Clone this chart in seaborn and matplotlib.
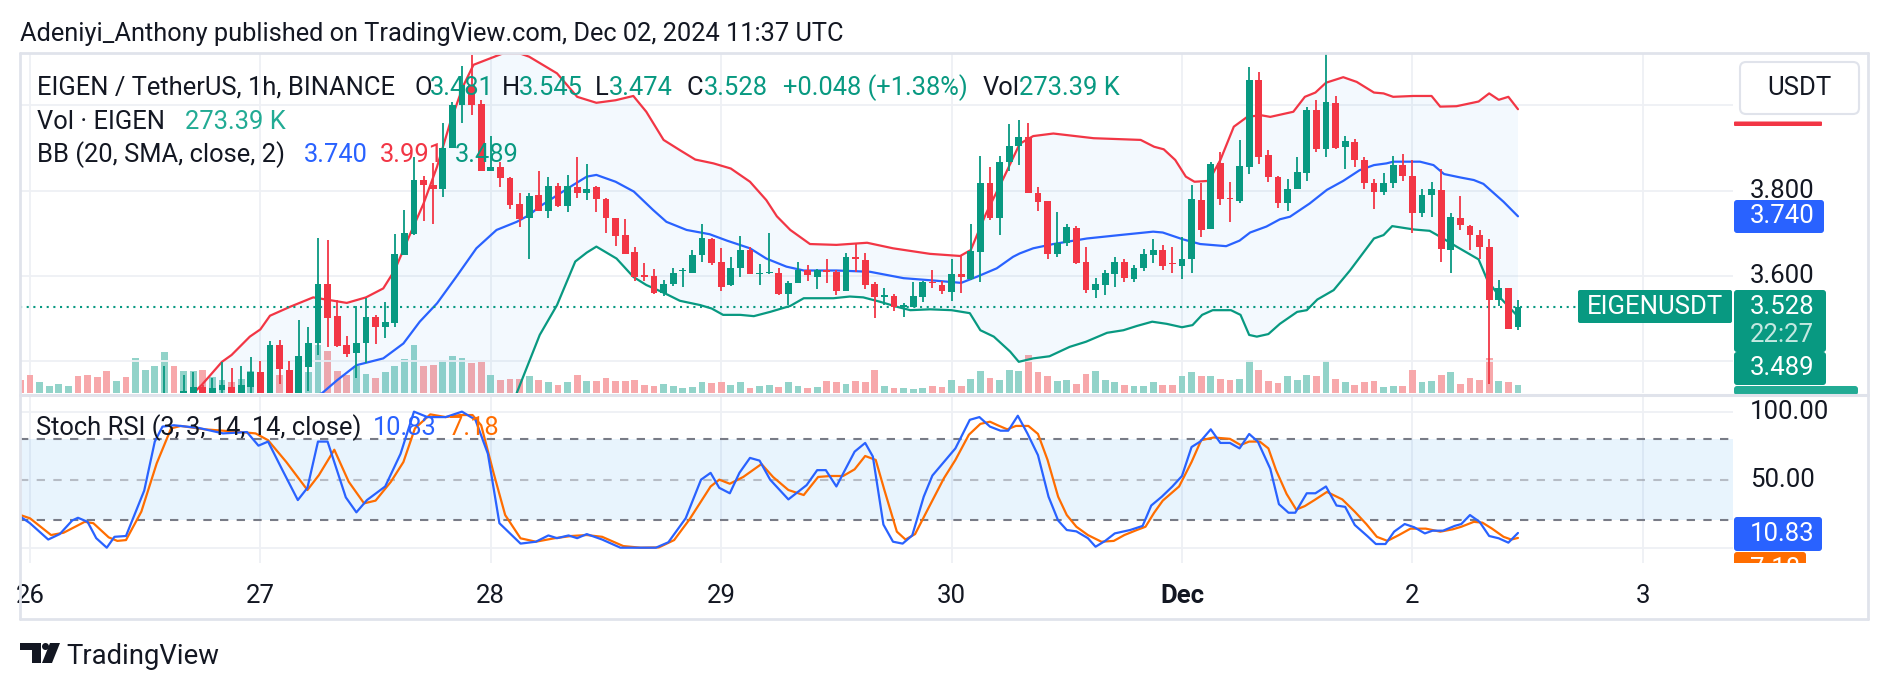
import numpy as np
import pandas as pd
import matplotlib
matplotlib.use("Agg")
import matplotlib.pyplot as plt
import seaborn as sns
from matplotlib.patches import FancyBboxPatch, Polygon, Circle
from matplotlib.lines import Line2D
from matplotlib.transforms import IdentityTransform

# ---------------- DATA ----------------
# hourly candles, hour 0 = Nov 26 00:00 UTC (first one is Nov 25 23:00)
hours = list(range(-1, 156))
opens = [3.28, 3.27, 3.25, 3.26, 3.265, 3.27, 3.275, 3.26, 3.245, 3.235,
         3.22, 3.23, 3.22, 3.25, 3.27, 3.29, 3.31, 3.30, 3.32, 3.341,
         3.315, 3.334, 3.341, 3.318, 3.341, 3.376, 3.32, 3.438, 3.38, 3.32,
         3.386, 3.442, 3.581, 3.506, 3.438, 3.419, 3.442, 3.503, 3.48, 3.491,
         3.649, 3.698, 3.825, 3.813, 3.805, 3.899, 4.0, 4.048, 4.003, 3.847,
         3.856, 3.829, 3.769, 3.735, 3.79, 3.753, 3.811, 3.764, 3.808, 3.795,
         3.808, 3.78, 3.735, 3.696, 3.657, 3.602, 3.6, 3.561, 3.581, 3.611,
         3.606, 3.649, 3.686, 3.634, 3.579, 3.618, 3.661, 3.605, 3.606, 3.608,
         3.559, 3.583, 3.614, 3.598, 3.614, 3.61, 3.566, 3.644, 3.637, 3.581,
         3.552, 3.553, 3.528, 3.528, 3.55, 3.587, 3.579, 3.563, 3.605, 3.592,
         3.657, 3.819, 3.737, 3.868, 3.905, 3.925, 3.795, 3.777, 3.652, 3.677,
         3.712, 3.633, 3.567, 3.579, 3.605, 3.633, 3.592, 3.62, 3.649, 3.661,
         3.631, 3.623, 3.641, 3.778, 3.711, 3.864, 3.784, 3.777, 3.856, 4.059,
         3.883, 3.833, 3.772, 3.805, 3.841, 3.989, 3.897, 4.006, 3.902, 3.915,
         3.873, 3.817, 3.798, 3.817, 3.86, 3.834, 3.748, 3.79, 3.802, 3.66,
         3.735, 3.717, 3.696, 3.667, 3.545, 3.571, 3.481]
highs = [3.29, 3.28, 3.27, 3.27, 3.28, 3.28, 3.28, 3.27, 3.25, 3.24,
         3.235, 3.235, 3.26, 3.28, 3.30, 3.389, 3.32, 3.368, 3.376, 3.345,
         3.36, 3.399, 3.384, 3.389, 3.411, 3.402, 3.448, 3.45, 3.402, 3.497,
         3.481, 3.688, 3.684, 3.545, 3.459, 3.530, 3.548, 3.509, 3.54, 3.698,
         3.754, 3.878, 3.834, 3.864, 3.958, 4.009, 4.092, 4.118, 4.012, 3.928,
         3.868, 3.833, 3.794, 3.794, 3.847, 3.833, 3.817, 3.837, 3.88, 3.862,
         3.811, 3.782, 3.737, 3.733, 3.667, 3.63, 3.616, 3.591, 3.618, 3.62,
         3.661, 3.722, 3.688, 3.665, 3.644, 3.694, 3.667, 3.628, 3.70, 3.618,
         3.589, 3.634, 3.626, 3.616, 3.641, 3.615, 3.653, 3.678, 3.655, 3.587,
         3.573, 3.559, 3.536, 3.587, 3.589, 3.614, 3.589, 3.639, 3.649, 3.723,
         3.881, 3.856, 3.881, 3.956, 3.966, 3.959, 3.808, 3.777, 3.75, 3.722,
         3.717, 3.667, 3.595, 3.613, 3.644, 3.639, 3.626, 3.663, 3.686, 3.673,
         3.667, 3.692, 3.813, 3.817, 3.868, 3.891, 3.821, 3.919, 4.091, 4.079,
         3.895, 3.835, 3.827, 3.878, 3.997, 4.013, 4.12, 4.022, 3.928, 3.92,
         3.88, 3.827, 3.841, 3.881, 3.886, 3.872, 3.803, 3.821, 3.852, 3.747,
         3.787, 3.72, 3.709, 3.686, 3.591, 3.572, 3.545]
lows = [3.26, 3.24, 3.24, 3.25, 3.26, 3.26, 3.25, 3.24, 3.23, 3.21,
        3.215, 3.21, 3.215, 3.24, 3.26, 3.28, 3.28, 3.29, 3.31, 3.30,
        3.31, 3.31, 3.31, 3.31, 3.325, 3.31, 3.31, 3.348, 3.30, 3.31,
        3.33, 3.415, 3.434, 3.434, 3.411, 3.36, 3.397, 3.44, 3.454, 3.48,
        3.649, 3.696, 3.73, 3.723, 3.786, 3.899, 3.959, 3.977, 3.847, 3.845,
        3.808, 3.756, 3.716, 3.639, 3.753, 3.735, 3.762, 3.751, 3.784, 3.778,
        3.751, 3.702, 3.670, 3.652, 3.589, 3.589, 3.559, 3.553, 3.577, 3.575,
        3.606, 3.634, 3.626, 3.566, 3.577, 3.598, 3.605, 3.579, 3.605, 3.555,
        3.532, 3.583, 3.589, 3.569, 3.583, 3.555, 3.566, 3.61, 3.569, 3.501,
        3.532, 3.519, 3.505, 3.528, 3.538, 3.573, 3.559, 3.542, 3.561, 3.591,
        3.587, 3.731, 3.696, 3.845, 3.86, 3.795, 3.753, 3.639, 3.644, 3.67,
        3.628, 3.561, 3.548, 3.555, 3.575, 3.587, 3.587, 3.612, 3.63, 3.614,
        3.608, 3.592, 3.608, 3.692, 3.711, 3.766, 3.727, 3.772, 3.839, 3.863,
        3.821, 3.759, 3.753, 3.805, 3.823, 3.891, 3.878, 3.898, 3.852, 3.855,
        3.803, 3.756, 3.79, 3.806, 3.823, 3.702, 3.739, 3.739, 3.634, 3.608,
        3.708, 3.661, 3.639, 3.348, 3.53, 3.477, 3.474]
closes = [3.27, 3.25, 3.26, 3.265, 3.27, 3.275, 3.26, 3.245, 3.235, 3.22,
          3.23, 3.22, 3.25, 3.27, 3.29, 3.31, 3.30, 3.331, 3.339, 3.315,
          3.338, 3.345, 3.318, 3.345, 3.376, 3.322, 3.438, 3.381, 3.32, 3.413,
          3.442, 3.581, 3.501, 3.436, 3.417, 3.442, 3.505, 3.48, 3.492, 3.652,
          3.702, 3.825, 3.813, 3.805, 3.899, 4.001, 4.048, 4.0, 3.847, 3.856,
          3.829, 3.766, 3.733, 3.788, 3.753, 3.811, 3.764, 3.811, 3.794, 3.803,
          3.78, 3.735, 3.694, 3.652, 3.598, 3.597, 3.561, 3.581, 3.606, 3.614,
          3.649, 3.688, 3.63, 3.575, 3.62, 3.661, 3.605, 3.608, 3.609, 3.559,
          3.583, 3.614, 3.602, 3.614, 3.61, 3.566, 3.644, 3.639, 3.579, 3.55,
          3.556, 3.528, 3.532, 3.553, 3.587, 3.583, 3.566, 3.605, 3.598, 3.659,
          3.819, 3.735, 3.868, 3.905, 3.925, 3.795, 3.774, 3.652, 3.677, 3.714,
          3.631, 3.567, 3.581, 3.606, 3.633, 3.595, 3.62, 3.652, 3.662, 3.623,
          3.628, 3.641, 3.78, 3.709, 3.862, 3.78, 3.781, 3.858, 4.059, 3.88,
          3.831, 3.77, 3.805, 3.844, 3.989, 3.897, 4.009, 3.899, 3.917, 3.873,
          3.819, 3.798, 3.817, 3.86, 3.834, 3.748, 3.79, 3.803, 3.663, 3.738,
          3.72, 3.696, 3.667, 3.545, 3.571, 3.477, 3.528]
volumes_k = [436, 600, 349, 240, 305, 240, 567, 600, 523, 719,
             392, 523, 1145, 763, 894, 1341, 894, 719, 719, 763,
             523, 436, 349, 469, 709, 545, 654, 600, 763, 654,
             676, 1581, 1363, 709, 600, 872, 632, 491, 676, 894,
             1112, 1581, 894, 927, 1068, 1199, 1145, 981, 1003, 600,
             436, 458, 458, 567, 436, 349, 273, 349, 600, 382,
             382, 491, 382, 382, 436, 273, 218, 305, 240, 164,
             196, 349, 327, 349, 273, 349, 164, 240, 273, 196,
             349, 218, 164, 196, 382, 349, 305, 382, 349, 763,
             218, 164, 164, 131, 164, 218, 196, 436, 218, 458,
             709, 491, 436, 763, 709, 1254, 676, 545, 382, 414,
             305, 632, 709, 414, 349, 273, 240, 240, 349, 273,
             273, 545, 676, 567, 545, 458, 414, 458, 1090, 763,
             382, 327, 545, 414, 600, 545, 1036, 458, 349, 273,
             349, 382, 196, 240, 240, 741, 349, 382, 600, 676,
             305, 491, 436, 1145, 403, 349, 273]

# Bollinger bands (20, SMA, close, 2)
upper_hours = [12, 17, 17.9, 20, 21, 22.9, 24, 25, 27.1, 29.5, 33, 35, 36.8, 38, 39.4, 41, 42.4,
               43.75, 45.1, 46.2, 49.3, 51, 52, 54.9, 57, 59, 61, 62.85, 64.2, 66, 67.7, 69.3,
               71.2, 73, 75, 76.7, 77.8, 79.2, 81.25, 84, 87.2, 89.9, 93.75, 96.9, 98, 99.6,
               101.4, 103.1, 104.5, 106.6, 110.8, 115.7, 117.1, 118.1, 119.3, 120.4, 121.3,
               122.8, 124, 125.4, 126.8, 128.2, 129.2, 131.6, 132.8, 133.9, 135, 136.8, 138.2,
               140, 141, 142, 144.1, 146, 146.9, 148.6, 150.9, 152, 153, 154, 155]
upper_vals = [3.30, 3.325, 3.345, 3.399, 3.415, 3.458, 3.475, 3.507, 3.528, 3.55, 3.537, 3.55, 3.571,
              3.614, 3.688, 3.77, 3.856, 3.958, 4.044, 4.095, 4.122, 4.122, 4.114, 4.075, 4.02,
              4.006, 4.012, 4.022, 3.985, 3.919, 3.895, 3.873, 3.864, 3.852, 3.821, 3.778, 3.74,
              3.708, 3.675, 3.673, 3.678, 3.665, 3.652, 3.647, 3.661, 3.747, 3.829, 3.91, 3.928,
              3.934, 3.923, 3.919, 3.903, 3.897, 3.872, 3.833, 3.821, 3.823, 3.872, 3.95, 3.973,
              3.977, 3.973, 3.985, 4.02, 4.03, 4.053, 4.066, 4.055, 4.03, 4.028, 4.02, 4.022,
              4.022, 3.997, 3.998, 4.009, 4.028, 4.013, 4.02, 3.991]
basis_hours = [17, 25, 30.4, 32, 34, 36.8, 38.9, 40.6, 42.4, 44.4, 46.5, 48.6, 50.7, 52, 53.1, 56.2,
               58, 59, 61, 62.9, 64.9, 66.3, 68.4, 70.8, 72.6, 75, 76.7, 78.8, 80.6, 84, 87.5, 91,
               94.4, 97, 98.6, 100.7, 102.4, 103.1, 104.5, 106.6, 110.1, 113.5, 117, 118, 120.1,
               121.9, 124.6, 126, 127.1, 128.8, 130.2, 131.25, 133.3, 135.1, 136.8, 138.5, 140,
               141.3, 142, 144.8, 146.2, 147.3, 149, 150.4, 151.4, 153.5, 155]
basis_vals = [3.27, 3.29, 3.325, 3.356, 3.391, 3.407, 3.442, 3.493, 3.536, 3.598, 3.665, 3.708, 3.727,
              3.743, 3.763, 3.808, 3.833, 3.837, 3.821, 3.798, 3.755, 3.727, 3.708, 3.698, 3.683,
              3.665, 3.641, 3.622, 3.613, 3.613, 3.61, 3.595, 3.589, 3.584, 3.598, 3.618, 3.645,
              3.653, 3.665, 3.675, 3.688, 3.696, 3.704, 3.702, 3.686, 3.675, 3.67, 3.683, 3.702,
              3.716, 3.733, 3.739, 3.77, 3.802, 3.823, 3.848, 3.86, 3.864, 3.868, 3.868, 3.86,
              3.839, 3.831, 3.825, 3.816, 3.774, 3.740]
lower_hours = [17, 25, 30, 35, 40, 44, 47, 49, 50.6, 53.1, 54.9, 56.8, 58, 59, 61.1, 62.85, 64.2, 66,
               67.7, 69.8, 71, 72.2, 74, 75.4, 77.1, 79.2, 80.6, 83.7, 85.4, 86.8, 88.5, 90.3, 91.7,
               93.75, 96, 97.9, 99, 100.4, 102.1, 103, 104.5, 106.2, 108.3, 110, 112.2, 113.9,
               115.3, 116.9, 118.4, 120, 121.1, 122.1, 123.2, 125.1, 126.1, 127, 127.8, 129, 130.2,
               132, 133, 134.1, 135.8, 137.5, 140, 141, 141.9, 144.2, 145.8, 146.9, 148.6, 150.9,
               151.8, 153.2, 155]
lower_vals = [3.22, 3.18, 3.17, 3.2, 3.12, 3.09, 3.12, 3.22, 3.32, 3.462, 3.532, 3.634, 3.655, 3.669,
              3.641, 3.598, 3.579, 3.561, 3.542, 3.532, 3.524, 3.509, 3.509, 3.506, 3.516, 3.53,
              3.548, 3.548, 3.552, 3.55, 3.54, 3.528, 3.52, 3.522, 3.52, 3.513, 3.473, 3.458,
              3.423, 3.399, 3.407, 3.412, 3.434, 3.446, 3.467, 3.473, 3.483, 3.493, 3.488, 3.48,
              3.485, 3.509, 3.52, 3.52, 3.509, 3.462, 3.458, 3.464, 3.488, 3.516, 3.52, 3.545,
              3.567, 3.613, 3.688, 3.696, 3.717, 3.709, 3.706, 3.692, 3.669, 3.639, 3.591, 3.548,
              3.505]

# Stoch RSI (3, 3, 14, 14, close)
k_hours = [-1, 0, 1.9, 3.1, 4.4, 5, 6, 6.9, 8, 8.8, 10, 11.9, 13, 13.8, 15, 17.6, 20.1, 22.6, 23.8,
           24.8, 26.3, 27.9, 28.9, 30, 31, 32.9, 34, 35.1, 37, 38.6, 40, 41.4, 43.3, 45, 46.4, 47.7,
           48.9, 51.1, 52.7, 54, 54.9, 56.1, 57, 58, 59.6, 61.5, 63.4, 65.2, 66.5, 68.3, 69.9, 70.9,
           71.8, 72.9, 73.9, 75, 76, 77.1, 79, 80.9, 82, 82.9, 84, 85.9, 87, 87.8, 88.9, 89.9, 90.9,
           91.9, 93.1, 94, 95.2, 96.4, 97.9, 98.9, 100, 101.1, 101.9, 102.9, 103.9, 105, 106.1,
           107.1, 108, 109, 110.2, 111, 112, 113, 114.6, 115.9, 116.8, 117.9, 119, 120, 121, 121.9,
           123, 124, 125, 126, 127, 127.9, 129.2, 130.1, 131.1, 131.8, 133, 133.9, 135, 136.1, 137,
           138, 139.3, 140.2, 141.2, 142.1, 143.2, 144.2, 145.3, 146.1, 147.2, 148.4, 149.1, 150,
           151, 152, 153, 154, 155]
k_vals = [22.8, 18, 6, 10, 20, 22, 19, 7, 0, 8, 8.6, 42, 78, 89, 90, 88, 84, 85, 75, 78, 57, 35, 44,
          78, 78, 37, 26, 35, 45, 69, 100, 96, 96, 100, 94, 69, 18, 3, 4.4, 9, 7, 9, 7, 10, 6, 0, 0,
          0, 4, 21.6, 50, 55, 44, 40, 55, 66, 64, 50, 35.5, 46, 57, 57, 45, 70.6, 77, 67, 17, 4.4,
          3, 9, 37.5, 53, 63, 73, 94, 96, 89, 86, 86, 97, 84, 68, 37.5, 20, 13, 12, 7, 0.7, 5,
          10.5, 13, 16, 31, 37.5, 45, 52.7, 74, 78, 87, 77, 77, 73, 83.6, 78, 58, 32, 25.7, 25.7,
          40, 40, 45, 31, 30, 16.7, 8.6, 2.7, 2.7, 11.8, 17.4, 15, 10.5, 12.5, 12.5, 16, 17.4, 24,
          19, 8.6, 6.9, 3.7, 10.83]
d_hours = [-1, 0, 2.2, 3.5, 5.7, 6.6, 8.2, 9.1, 10, 11.6, 13.2, 14.7, 15.7, 18.2, 22, 23.5, 24.8,
           26.7, 28.9, 30.1, 31.7, 33.2, 34.8, 36, 37.6, 38.9, 40.1, 41.7, 43.3, 44.8, 46.1, 47,
           48.3, 49.5, 51.1, 52.7, 54.6, 56.4, 58, 59.6, 61.8, 63.6, 65.5, 67.1, 68.7, 70.9, 71.8,
           72.9, 74.3, 76.2, 77.4, 79, 80.6, 82.1, 83.4, 84.7, 85.9, 87, 88.1, 89, 90.3, 91.2, 92.2,
           93.4, 95.2, 96.4, 97.8, 99, 100, 100.8, 101.8, 102.7, 104, 105, 106, 107.1, 108, 109,
           110.2, 111.6, 112.9, 114, 115.3, 116.2, 117.1, 118, 119.7, 121, 122, 123.3, 125, 126.1,
           127, 128.1, 129, 129.8, 130.9, 131.9, 132.8, 133.8, 135.1, 136.7, 138, 139.2, 140.3,
           141.4, 142.6, 143.8, 145.4, 146.9, 148.2, 149.1, 150.4, 151.3, 152.3, 153.5, 154.3, 155]
d_vals = [24, 21.6, 9.3, 11, 19, 18, 7.6, 5, 5.6, 26.5, 62, 87.7, 89.5, 87, 85, 84, 79, 63, 42.4,
          53.4, 72, 48.5, 32.6, 34.6, 48.5, 63, 87.7, 98, 96, 97.5, 97.5, 90, 54.7, 24, 6.9, 4.4,
          6.9, 8.6, 9.3, 8, 1.2, 0, 0.2, 5.6, 20.8, 45, 50, 47, 52, 61.5, 52, 42.4, 38.7, 52, 52.7,
          52.7, 57.6, 67.4, 64.5, 42.4, 11.8, 6, 10, 26.5, 51, 64.5, 83, 91, 92.6, 90, 87, 89.5,
          89.5, 83.6, 64.5, 37.5, 24, 15.4, 9.3, 4.4, 5, 9.3, 13, 15.4, 25.7, 34.6, 45, 63, 79,
          81, 80, 75.5, 78, 78, 73, 57, 39.5, 28, 30.6, 35, 41, 35.5, 26.5, 17.4, 8, 5, 9.3, 14,
          14, 11.8, 13.5, 15.4, 19, 18.4, 14, 8, 6, 7.18]

day_hours = [0, 24, 48, 72, 96, 120, 144, 168]
day_labels = ["26", "27", "28", "29", "30", "Dec", "2", "3"]
last_close = 3.528

# ---------------- STYLE ----------------
sns.set_theme(style="white")
plt.rcParams['font.family'] = ['Roboto', 'DejaVu Sans']

UP, DOWN = "#089981", "#F23645"
UPV, DOWNV = "#92d3c9", "#f7a8ab"
BLUE, ORANGE = "#2962FF", "#FF6D00"
TXT = "#131722"
GRID = "#eef0f4"
BORDER = "#e0e3eb"
FS = 18.4
FSA = 18.5

W, H = 1888, 690
fig = plt.figure(figsize=(W / 100, H / 100), dpi=100)
fig.patch.set_facecolor("white")

def frect(x0, y0, x1, y1):
    return [x0 / W, 1 - y1 / H, (x1 - x0) / W, (y1 - y0) / H]

XL, XR = 20, 1733
xlim = (-1.04, 177.4)

axv = fig.add_axes(frect(XL, 53, XR, 393))
ax = fig.add_axes(frect(XL, 53, XR, 393))
ax.patch.set_visible(False)
ax2 = fig.add_axes(frect(XL, 396, XR, 563))

for a in (axv, ax, ax2):
    a.set_xlim(*xlim)
    for s in a.spines.values():
        s.set_visible(False)
    a.set_yticks([])
    a.grid(False)

df = pd.DataFrame(dict(h=hours, o=opens, hi=highs, lo=lows, c=closes, v=volumes_k))
df["up"] = df["c"] >= df["o"]

# volume
axv.set_ylim(0, 11118)
axv.bar(df["h"], df["v"], width=0.72, color=np.where(df["up"], UPV, DOWNV), linewidth=0)
axv.set_xticks([])

# grids
ax.set_ylim(3.3259, 4.1227)
for p in [3.4, 3.6, 3.8, 4.0]:
    ax.axhline(p, color=GRID, lw=1.3, zorder=0)
for d in day_hours:
    axv.axvline(d, color=GRID, lw=1.3, zorder=0)
    ax2.axvline(d, color=GRID, lw=1.3, zorder=0)

# BB fill + lines
poly_x = list(upper_hours) + list(lower_hours[::-1])
poly_y = list(upper_vals) + list(lower_vals[::-1])
ax.fill(poly_x, poly_y, color="#2196F3", alpha=0.05, lw=0, zorder=1)
sns.lineplot(x=upper_hours, y=upper_vals, ax=ax, color=DOWN, lw=1.6, estimator=None, sort=False, zorder=2)
sns.lineplot(x=basis_hours, y=basis_vals, ax=ax, color=BLUE, lw=1.6, estimator=None, sort=False, zorder=2)
sns.lineplot(x=lower_hours, y=lower_vals, ax=ax, color=UP, lw=1.6, estimator=None, sort=False, zorder=2)

# candles
colors = np.where(df["up"], UP, DOWN)
ax.vlines(df["h"], df["lo"], df["hi"], colors=colors, lw=1.3, zorder=3)
body_lo = np.minimum(df["o"], df["c"])
body_h = np.maximum(np.abs(df["c"] - df["o"]), 0.0025)
ax.bar(df["h"], body_h, bottom=body_lo, width=0.7, color=colors, linewidth=0, zorder=4)

ax.axhline(last_close, color=UP, lw=1.5, ls=(0, (1, 2.2)), zorder=2)
ax.set_xticks([])
ax.set_xlabel("")
ax.set_ylabel("")

# stoch rsi
ax2.set_ylim(-11.25, 111.5)
ax2.axhspan(20, 80, color="#2196F3", alpha=0.1, lw=0, zorder=0)
for v in (100, 0):
    ax2.axhline(v, color=GRID, lw=1.3, zorder=0)
ax2.axhline(80, color="#787b86", lw=1.5, ls=(0, (4, 4)), zorder=1)
ax2.axhline(20, color="#787b86", lw=1.5, ls=(0, (4, 4)), zorder=1)
ax2.axhline(50, color="#9598a1", lw=1.5, ls=(0, (4, 4)), alpha=0.6, zorder=1)
sns.lineplot(x=k_hours, y=k_vals, ax=ax2, color=BLUE, lw=1.6, estimator=None, sort=False, zorder=3)
sns.lineplot(x=d_hours, y=d_vals, ax=ax2, color=ORANGE, lw=1.6, estimator=None, sort=False, zorder=2)
ax2.set_xlabel("")
ax2.set_ylabel("")
ax2.set_xticks(day_hours)
ax2.set_xticklabels(day_labels, fontsize=FSA, color=TXT)
ax2.tick_params(axis="x", length=0, pad=15)
ax2.get_xticklabels()[5].set_fontweight("bold")

# ---------------- ANNOTATIONS (pixel coordinates) ----------------
ID = IdentityTransform()

def ptext(x, y, s, color=TXT, size=FS, ha="left", va="center", weight="normal"):
    return fig.text(x / W, 1 - y / H, s, color=color, fontsize=size, ha=ha, va=va, fontweight=weight)

def pbox(x0, y0, x1, y1, color, r=3, ec="none", lw=0):
    p = FancyBboxPatch((x0, H - y1), x1 - x0, y1 - y0, boxstyle=f"round,pad=0,rounding_size={r}",
                       transform=ID, facecolor=color, edgecolor=ec, linewidth=lw)
    fig.patches.append(p)
    return p

def pline(x0, y0, x1, y1, color=BORDER, lw=2.0):
    fig.add_artist(Line2D([x0 / W, x1 / W], [1 - y0 / H, 1 - y1 / H], color=color, lw=lw))

# frame
pline(20, 53, 1868, 53)
pline(20, 394.5, 1868, 394.5, lw=2.2)
pline(20, 619, 1868, 619)
pline(20, 53, 20, 619)
pline(1868, 53, 1868, 619)

# title
ptext(20, 34, "Adeniyi_Anthony published on TradingView.com, Dec 02, 2024 11:37 UTC", size=18.3)

# legend rows
LY1, LY2, LY3 = 88, 122, 155
ptext(37, LY1, "EIGEN / TetherUS, 1h, BINANCE")
for x, s, c in [(414, "O", TXT), (430, "3.481", UP), (502, "H", TXT), (519, "3.545", UP),
                (595, "L", TXT), (609, "3.474", UP), (686, "C", TXT), (704, "3.528", UP),
                (783, "+0.048 (+1.38%)", UP), (983, "Vol", TXT), (1019, "273.39 K", UP)]:
    ptext(x, LY1, s, color=c)
ptext(37, LY2, "Vol · EIGEN")
ptext(185, LY2, "273.39 K", color="#22ab94")
ptext(37, LY3, "BB (20, SMA, close, 2)")
ptext(304, LY3, "3.740", color=BLUE)
ptext(380, LY3, "3.991", color=DOWN)
ptext(455, LY3, "3.489", color=UP)

ptext(36, 428, "Stoch RSI (3, 3, 14, 14, close)")
ptext(373, 428, "10.83", color=BLUE)
ptext(449, 428, "7.18", color=ORANGE)

# right price scale
ptext(1750, 191, "3.800", size=FSA)
ptext(1750, 276, "3.600", size=FSA)
ptext(1750, 412, "100.00", size=FSA)
ptext(1750, 480, "50.00", size=FSA)

pbox(1740, 62, 1859, 114, "white", r=6, ec=BORDER, lw=1.5)
ptext(1799, 88, "USDT", ha="center", size=FSA)
pbox(1734, 121.5, 1822, 126, DOWN, r=1)

pbox(1734, 200, 1824, 233, BLUE, r=3)
ptext(1750, 216.5, "3.740", color="white", size=FSA)

pbox(1578, 290, 1732, 323, UP, r=2)
ptext(1655, 306.5, "EIGENUSDT", color="white", ha="center", size=FSA)
pbox(1734, 290, 1826, 352, UP, r=3)
ptext(1750, 307, "3.528", color="white", size=FSA)
ptext(1750, 335, "22:27", color="#c4e8e1", size=FSA)
pbox(1734, 352, 1826, 385, UP, r=3)
ptext(1750, 368.5, "3.489", color="white", size=FSA)
pbox(1734, 386, 1858, 395, "#22ab94", r=3)

pbox(1734, 517, 1822, 551, BLUE, r=3)
ptext(1750, 534, "10.83", color="white", size=FSA)
ob = pbox(1734, 552, 1806, 585, ORANGE, r=3)
clip = FancyBboxPatch((1734, H - 563), 80, 11, boxstyle="square,pad=0", transform=ID,
                      facecolor="none", edgecolor="none")
fig.patches.append(clip)
ob.set_clip_path(clip)
t = ptext(1750, 569, "7.18", color="white", size=FSA)
t.set_clip_path(clip)

# footer logo
logo_parts = [
    Polygon([(20, H - 643), (41, H - 643), (41, H - 663), (32, H - 663), (32, H - 650), (20, H - 650)],
            closed=True, transform=ID, facecolor=TXT, edgecolor="none"),
    Circle((45.5, H - 646.5), 3.5, transform=ID, facecolor=TXT, edgecolor="none"),
    Polygon([(50, H - 643), (60, H - 643), (52, H - 663), (42, H - 663)], closed=True,
            transform=ID, facecolor=TXT, edgecolor="none"),
]
for p in logo_parts:
    fig.patches.append(p)
ptext(66, 657, "TradingView", size=19.8)

fig.savefig("out.png", dpi=100, facecolor="white")
